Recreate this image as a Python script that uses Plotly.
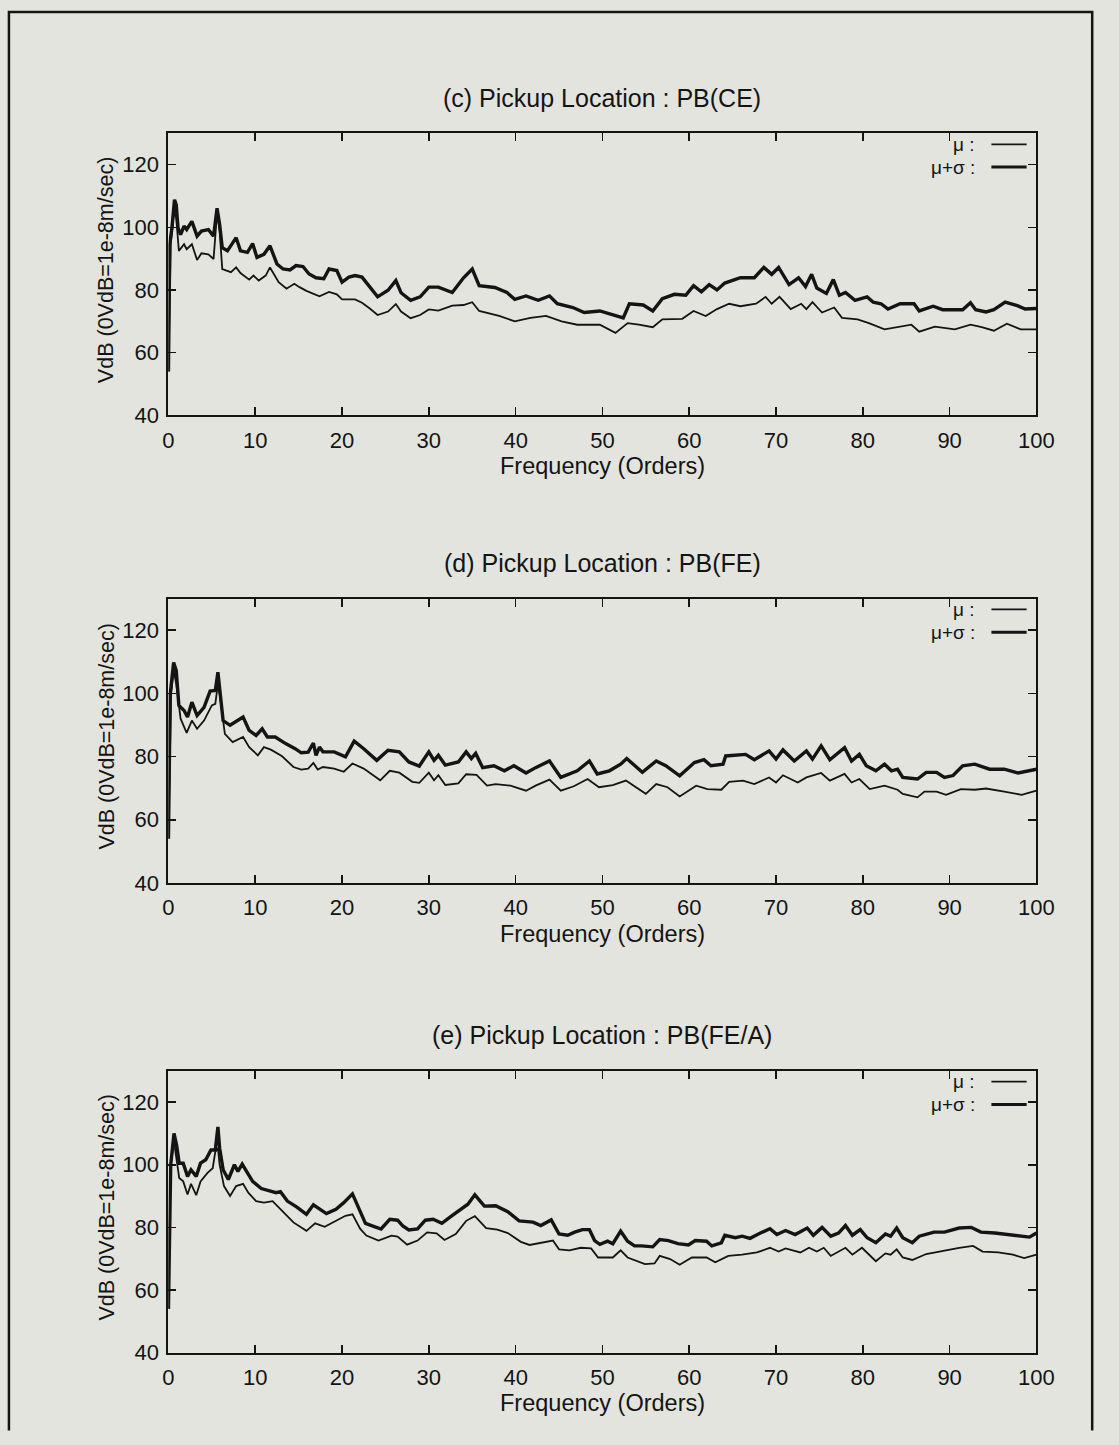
import plotly.graph_objects as go

# ---- data (orders vs VdB) ----
# (c) Pickup Location : PB(CE)
c_sig_x = [0, 0.15, 0.4, 0.7, 0.9, 1.1, 1.4, 1.8, 2.1, 2.7, 3.3, 3.8, 4.6, 5.2, 5.6, 5.9, 6.2, 6.8, 7.8, 8.3,
           9.1, 9.7, 10.2, 11.0, 11.7, 12.5, 13.2, 14.0, 14.7, 15.5, 16.2, 17.0, 17.9, 18.5, 19.4, 20.0, 20.8,
           21.5, 22.3, 23.2, 24.1, 25.3, 26.2, 26.8, 27.9, 29.0, 30.0, 31.1, 32.7, 34.0, 35.0, 35.8, 37.6, 39.0,
           39.9, 41.2, 42.6, 43.9, 44.8, 46.6, 47.9, 49.7, 51.5, 52.4, 53.1, 54.7, 55.8, 56.9, 58.3, 59.6, 60.5,
           61.4, 62.3, 63.2, 64.1, 65.9, 67.5, 68.6, 69.5, 70.3, 71.5, 72.6, 73.4, 74.1, 74.7, 75.8, 76.6, 77.3,
           78.0, 79.1, 80.5, 81.2, 82.1, 82.9, 84.3, 85.9, 86.5, 88.1, 89.2, 91.5, 92.4, 93.0, 94.2, 95.1, 96.4,
           97.8, 98.7, 100]
c_sig_y = [54, 94.6, 99.8, 108.8, 107.2, 99.8, 97.7, 100.4, 99.3, 101.9, 97.2, 98.8, 99.3, 97.2, 106.1, 100.9,
           93.5, 92.5, 96.7, 92.5, 92.0, 94.8, 90.4, 91.4, 94.1, 88.3, 86.7, 86.4, 87.8, 87.5, 85.1, 83.9, 83.6,
           86.7, 86.2, 82.5, 84.1, 84.6, 84.1, 80.9, 77.8, 79.9, 83.0, 79.1, 76.7, 77.8, 80.9, 80.9, 79.2, 83.9,
           86.7, 81.4, 80.8, 79.2, 77.0, 78.1, 76.7, 78.1, 75.6, 74.4, 72.8, 73.3, 71.7, 71.1, 75.6, 75.2, 73.3,
           77.2, 78.6, 78.3, 81.4, 79.4, 81.7, 80.0, 82.2, 83.9, 83.9, 87.2, 85.0, 87.2, 81.7, 83.9, 81.1, 85.0,
           80.6, 78.9, 83.3, 78.3, 79.2, 76.7, 77.8, 76.1, 75.6, 73.9, 75.6, 75.6, 73.3, 74.8, 73.7, 73.7, 75.9,
           73.7, 73.0, 73.7, 76.1, 75.0, 73.9, 74.1]
c_mu_x = [0, 0.26, 0.64, 0.9, 1.2, 1.8, 2.1, 2.7, 3.3, 3.8, 4.6, 5.2, 5.6, 5.9, 6.2, 7.2, 7.8, 8.3, 9.3, 9.8,
          10.4, 11.2, 11.7, 12.7, 13.6, 14.5, 15.1, 15.9, 17.4, 18.5, 19.4, 20.0, 21.5, 22.3, 23.2, 24.1, 25.3,
          26.2, 26.8, 27.9, 29.0, 30.0, 31.1, 32.7, 34.0, 35.0, 35.8, 38.1, 39.9, 41.7, 43.5, 45.3, 47.1, 49.7,
          51.5, 52.9, 54.2, 55.8, 56.9, 59.2, 60.5, 61.9, 63.2, 64.6, 65.9, 67.7, 68.8, 69.5, 70.4, 71.7, 72.9,
          73.5, 74.2, 75.3, 76.7, 77.6, 79.4, 80.7, 82.5, 85.6, 86.5, 88.3, 90.6, 92.4, 93.7, 95.1, 96.6, 98.2,
          100]
c_mu_y = [54, 94.6, 105, 103, 92.5, 94.6, 93.0, 94.6, 89.6, 91.7, 91.4, 89.9, 104.6, 98.8, 86.7, 85.7, 87.2,
          85.4, 83.3, 84.6, 83.0, 84.6, 87.2, 82.5, 80.4, 82.0, 80.9, 79.7, 78.0, 79.4, 78.6, 77.0, 77.0, 75.9,
          74.1, 72.0, 73.1, 75.5, 73.1, 71.0, 72.0, 73.8, 73.4, 75.0, 75.2, 76.1, 73.3, 71.7, 70.0, 71.1, 71.7,
          70.0, 68.9, 68.9, 66.3, 69.4, 68.9, 68.1, 70.6, 70.8, 73.3, 71.7, 73.9, 75.6, 74.8, 75.6, 77.8, 75.6,
          77.8, 73.9, 75.6, 73.9, 76.1, 72.8, 74.4, 71.1, 70.6, 69.4, 67.4, 68.9, 66.7, 68.3, 67.4, 68.9, 68.1,
          67.0, 69.2, 67.4, 67.4]

# (d) Pickup Location : PB(FE)
d_sig_x = [0, 0.2, 0.6, 0.9, 1.2, 1.8, 2.2, 2.7, 3.3, 4.1, 4.8, 5.4, 5.7, 5.9, 6.3, 7.1, 7.8, 8.6, 9.3, 10.1,
           10.8, 11.4, 12.3, 13.5, 14.6, 15.3, 16.1, 16.7, 17.0, 17.4, 17.8, 19.1, 20.4, 21.4, 22.5, 24.0, 25.3,
           26.6, 27.7, 28.9, 30.0, 30.6, 31.1, 31.9, 33.4, 34.3, 34.9, 35.4, 36.2, 37.5, 38.7, 39.8, 41.2, 42.3,
           43.9, 45.2, 47.1, 48.5, 49.4, 50.8, 52.1, 52.8, 54.6, 56.2, 57.3, 58.9, 60.6, 61.7, 62.5, 63.9, 64.2,
           66.5, 67.5, 69.2, 70.0, 70.8, 72.1, 73.5, 74.2, 75.2, 76.2, 77.9, 78.7, 79.6, 80.4, 81.5, 82.5, 83.3,
           84.0, 84.6, 86.3, 87.3, 88.5, 89.4, 90.4, 91.5, 92.9, 94.6, 96.3, 97.9, 100]
d_sig_y = [54, 99.8, 109.8, 107.2, 96.2, 94.6, 92.5, 97.2, 93.0, 95.6, 100.7, 100.9, 106.7, 101.9, 91.4, 89.9,
           91.2, 92.5, 88.3, 86.7, 88.8, 86.2, 86.2, 84.1, 82.5, 81.2, 81.4, 84.3, 80.4, 83.0, 81.5, 81.5, 79.9,
           84.9, 82.5, 78.8, 82.0, 81.5, 78.3, 77.0, 81.5, 78.8, 80.4, 77.3, 78.3, 81.5, 79.4, 81.0, 76.5, 77.1,
           75.5, 77.1, 74.8, 76.5, 78.6, 73.4, 75.5, 78.6, 74.5, 75.5, 77.6, 79.4, 75.0, 78.6, 77.1, 73.9, 78.1,
           79.0, 77.1, 77.6, 80.2, 80.7, 79.0, 81.8, 79.2, 82.1, 78.6, 81.8, 79.2, 83.4, 79.0, 82.8, 78.6, 80.7,
           77.1, 75.5, 77.6, 75.5, 76.0, 73.4, 72.9, 75.0, 75.0, 73.4, 74.0, 77.1, 77.6, 76.0, 76.0, 74.8, 76.0]
d_mu_x = [0, 0.3, 0.6, 0.9, 1.4, 2.1, 2.7, 3.3, 4.1, 5.0, 5.4, 5.7, 5.9, 6.5, 7.4, 8.6, 9.3, 10.3, 11.0, 11.8,
          13.1, 14.4, 15.3, 16.1, 16.7, 17.2, 17.8, 19.1, 20.2, 21.2, 22.5, 24.4, 25.5, 26.6, 28.1, 28.9, 30.0,
          30.6, 31.1, 31.9, 33.4, 34.3, 35.5, 36.7, 37.7, 39.4, 41.2, 42.3, 43.9, 45.2, 46.7, 48.3, 49.6, 51.2,
          52.7, 55.0, 56.2, 57.5, 58.9, 60.8, 62.1, 63.7, 64.6, 66.2, 67.5, 69.2, 70.0, 70.8, 72.5, 73.5, 75.2,
          76.2, 77.9, 78.7, 79.6, 80.8, 82.5, 84.0, 84.6, 86.3, 87.1, 88.5, 89.6, 91.3, 92.9, 94.2, 96.3, 98.3,
          100]
d_mu_y = [54, 99.8, 107.2, 103, 92, 87.5, 91.4, 88.8, 91.4, 96.2, 96.7, 103, 99.8, 87.2, 84.6, 86.2, 83.0,
          80.4, 83.0, 82.2, 80.1, 76.7, 75.9, 76.2, 78.0, 75.9, 76.7, 76.2, 75.2, 77.8, 76.2, 72.5, 75.5, 74.9,
          72.0, 71.7, 74.9, 72.5, 74.1, 71.0, 71.5, 74.4, 74.2, 70.8, 71.3, 70.8, 69.2, 70.8, 72.7, 69.2, 70.6,
          72.9, 70.3, 71.0, 72.4, 68.2, 71.3, 70.3, 67.4, 70.8, 69.7, 69.5, 72.0, 72.4, 71.3, 73.4, 71.8, 74.1,
          71.8, 73.4, 74.8, 72.4, 74.5, 71.8, 72.9, 69.7, 70.8, 69.5, 68.2, 67.1, 68.9, 68.9, 67.9, 69.7, 69.5,
          69.9, 68.9, 67.9, 69.2]

# (e) Pickup Location : PB(FE/A)
e_sig_x = [0, 0.26, 0.64, 0.94, 1.24, 1.7, 2.2, 2.6, 3.2, 3.7, 4.3, 4.9, 5.4, 5.7, 5.9, 6.3, 6.9, 7.6, 8.0, 8.5,
           9.0, 9.7, 10.7, 11.6, 12.4, 12.9, 13.7, 14.8, 15.9, 16.7, 17.4, 18.2, 19.3, 20.2, 21.2, 21.9, 22.7,
           23.8, 24.5, 25.5, 26.4, 27.0, 27.7, 28.7, 29.6, 30.5, 31.5, 32.4, 33.5, 34.5, 35.3, 36.4, 37.7, 39.1,
           40.4, 42.0, 42.9, 44.1, 45.0, 46.0, 46.8, 47.7, 48.5, 49.1, 49.7, 50.6, 51.2, 52.1, 52.9, 53.7, 54.5,
           55.8, 56.6, 57.6, 58.7, 59.9, 60.7, 62.0, 62.6, 63.7, 64.1, 65.3, 66.1, 67.0, 68.2, 69.3, 70.1, 71.1,
           72.2, 73.6, 74.3, 75.3, 76.3, 77.2, 78.0, 78.8, 79.7, 80.5, 81.5, 82.6, 83.2, 83.9, 84.6, 85.7, 86.5,
           88.2, 89.4, 91.1, 92.5, 93.6, 95.2, 96.9, 98.1, 99.2, 100]
e_sig_y = [54, 100, 110, 106.3, 100.5, 100.5, 96.3, 98.4, 96.3, 100.5, 101.6, 104.7, 104.7, 112.1, 105.3, 98.4,
           95.3, 100, 97.9, 100.2, 97.9, 94.7, 92.4, 91.8, 91.1, 91.4, 88.4, 86.5, 84.2, 87.2, 85.8, 84.4, 85.8,
           87.9, 90.7, 86.3, 81.3, 80.2, 79.5, 82.6, 82.3, 80.5, 79.2, 79.5, 82.3, 82.6, 81.3, 83.2, 85.3, 87.4,
           90.4, 86.8, 86.9, 85.0, 82.1, 81.7, 80.6, 82.4, 77.9, 77.5, 78.5, 79.3, 79.3, 75.8, 74.6, 75.6, 74.8,
           78.8, 75.6, 74.1, 74.1, 73.8, 76.1, 75.8, 74.8, 74.4, 75.8, 75.6, 74.1, 75.1, 77.5, 76.7, 77.2, 76.5,
           78.2, 79.6, 77.7, 79.0, 77.7, 79.8, 77.5, 80.0, 77.2, 78.2, 80.6, 77.5, 79.3, 76.7, 75.1, 77.9, 77.2,
           79.8, 76.7, 75.1, 77.2, 78.5, 78.5, 79.8, 80.0, 78.5, 78.2, 77.7, 77.2, 76.9, 78.2]
e_mu_x = [0, 0.26, 0.64, 0.94, 1.24, 1.7, 2.2, 2.6, 3.2, 3.7, 4.5, 5.1, 5.4, 5.7, 5.9, 6.4, 7.1, 7.8, 8.6, 9.2,
          10.1, 11.0, 12.0, 13.1, 14.4, 15.9, 16.9, 18.0, 19.3, 20.4, 21.2, 22.1, 22.8, 24.2, 25.7, 26.4, 27.5,
          28.7, 29.8, 30.9, 31.8, 33.1, 34.3, 35.3, 36.6, 37.9, 39.1, 40.6, 41.6, 43.7, 44.3, 45.0, 46.2, 47.5,
          48.7, 49.5, 51.2, 52.1, 52.9, 54.9, 56.0, 56.6, 57.8, 58.9, 60.3, 62.0, 63.0, 64.5, 66.1, 67.8, 69.3,
          70.3, 71.1, 72.8, 73.8, 74.7, 75.5, 76.3, 78.0, 78.8, 79.9, 81.5, 82.6, 83.2, 83.9, 84.6, 85.7, 87.3,
          89.4, 91.1, 92.7, 93.8, 95.6, 97.3, 98.6, 100]
e_mu_y = [54, 100, 107.4, 102, 95.8, 94.7, 90.5, 93.9, 90.3, 94.7, 97.4, 98.9, 104.2, 105.3, 100, 93.2, 90,
          93.2, 93.9, 91.1, 88.4, 87.9, 88.4, 85.3, 81.6, 78.9, 81.3, 80.2, 82.1, 83.7, 84.2, 79.5, 77.4, 75.8,
          77.4, 77.1, 74.5, 75.8, 78.4, 78.1, 76.0, 77.9, 82.1, 83.6, 79.8, 79.3, 78.2, 75.4, 74.4, 75.4, 75.8,
          73.0, 72.7, 73.5, 73.3, 70.4, 70.4, 72.7, 70.4, 68.3, 68.5, 70.9, 69.9, 68.1, 70.4, 70.4, 68.9, 70.9,
          71.3, 72.0, 73.5, 72.3, 73.3, 72.0, 73.5, 72.3, 73.5, 70.9, 73.5, 71.3, 73.5, 69.2, 71.7, 71.3, 73.0,
          70.4, 69.6, 71.5, 72.7, 73.5, 74.1, 72.3, 72.0, 71.3, 70.2, 71.3]

titles = ["(c) Pickup Location : PB(CE)", "(d) Pickup Location : PB(FE)", "(e) Pickup Location : PB(FE/A)"]
panels = [
    (c_mu_x, c_mu_y, c_sig_x, c_sig_y),
    (d_mu_x, d_mu_y, d_sig_x, d_sig_y),
    (e_mu_x, e_mu_y, e_sig_x, e_sig_y),
]
x_ticks = [0, 10, 20, 30, 40, 50, 60, 70, 80, 90, 100]
y_ticks = [40, 60, 80, 100, 120]

W, H = 1119, 1445
BG = "#e3e4dd"
INK = "#141414"
FONT = "Liberation Sans, Arial, sans-serif"

# panel geometry in page pixels
left_px, right_px = 166, 1053
tops_px = [134.6, 604, 1080.5]
bottoms_px = [419, 891, 1365]


def fx(px):
    return px / W


def fy(py):
    return 1 - py / H


def note(text, px, py, size, **kw):
    kw.setdefault("xanchor", "center")
    fig.add_annotation(text=text, x=fx(px), y=fy(py), xref="paper", yref="paper", yanchor="middle",
                       showarrow=False, font=dict(family=FONT, size=size, color=INK), **kw)


fig = go.Figure()

for i, (mx, my, sx, sy) in enumerate(panels):
    assert len(mx) == len(my) and len(sx) == len(sy)
    n = "" if i == 0 else str(i + 1)
    fig.add_trace(go.Scatter(x=mx, y=my, mode="lines", xaxis="x" + n, yaxis="y" + n,
                             line=dict(color=INK, width=1.8), showlegend=False))
    fig.add_trace(go.Scatter(x=sx, y=sy, mode="lines", xaxis="x" + n, yaxis="y" + n,
                             line=dict(color=INK, width=3.4), showlegend=False))

    axis_common = dict(showline=True, linecolor=INK, linewidth=2, mirror="ticks", ticks="inside",
                       ticklen=8, tickwidth=1.5, tickcolor=INK, showgrid=False, zeroline=False,
                       fixedrange=True, tickfont=dict(family=FONT, size=22, color=INK))
    fig.layout["xaxis" + n] = dict(axis_common, domain=[fx(left_px), fx(right_px)], range=[0, 100],
                                   tickvals=x_ticks, anchor="y" + n, ticklabelstandoff=4)
    fig.layout["yaxis" + n] = dict(axis_common, domain=[fy(bottoms_px[i]), fy(tops_px[i])], range=[40, 130],
                                   tickvals=y_ticks, anchor="x" + n, ticklabelstandoff=3)

    mid_x = (left_px + right_px) / 2
    top, bot = tops_px[i], bottoms_px[i]
    note(titles[i], mid_x, top - 36, 25)
    note("Frequency (Orders)", mid_x, bot + 51, 23.5)
    note("VdB (0VdB=1e-8m/sec)", 103, (top + bot) / 2 - 4, 21.5, textangle=-90)

    # key in the upper right corner
    for k, (lab, lw) in enumerate([("μ :", 1.8), ("μ+σ :", 3.0)]):
        yy = top + 11 + 23 * k
        note(lab, 992, yy, 19, xanchor="right")
        fig.add_shape(type="line", x0=fx(1007), x1=fx(1043), y0=fy(yy), y1=fy(yy), xref="paper", yref="paper",
                      line=dict(color=INK, width=lw))

# outer frame of the page: left, top and right edges (the bottom runs off the scan)
frame = "M {l},0.001 L {l},{t} L {r},{t} L {r},0.001".format(l=fx(3), r=fx(1110), t=fy(12))
fig.add_shape(type="path", path=frame, xref="paper", yref="paper", line=dict(color=INK, width=2.5))

fig.update_layout(width=W, height=H, margin=dict(l=0, r=0, t=0, b=0), paper_bgcolor=BG, plot_bgcolor=BG,
                  showlegend=False, dragmode=False)

# pin the page to exactly the figure size: no body margin, no scrollbars,
# and every wrapper clipped so nothing can make the document larger than the window
page_css = (
    "document.documentElement.style.cssText='margin:0;padding:0;overflow:hidden;width:1119px;height:1445px;"
    "background:#e3e4dd;';"
    "document.body.style.cssText='margin:0;padding:0;overflow:hidden;width:1119px;height:1445px;';"
    "var gd=document.querySelector('.plotly-graph-div');"
    "for(var el=gd; el && el!==document.body; el=el.parentElement){"
    "el.style.overflow='hidden'; el.style.width='1119px'; el.style.height='1445px';"
    "el.style.margin='0'; el.style.padding='0';}"
    "document.querySelectorAll('.svg-container, svg').forEach(function(s){s.style.overflow='hidden';});"
)
fig.write_html("out.html", post_script=page_css, config={"staticPlot": True, "displayModeBar": False})
